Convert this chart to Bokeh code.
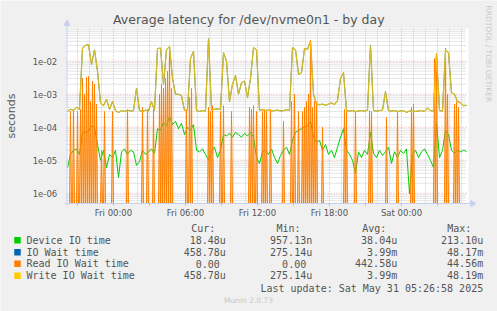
import math
import numpy as np
import pandas as pd
from bokeh.plotting import figure
from bokeh.models import Range1d, LogScale
from bokeh.core.properties import value
from bokeh.embed import file_html
from bokeh.resources import INLINE

# ---------------- data ----------------
title = "Average latency for /dev/nvme0n1 - by day"
first_sample = "2025-05-29 20:10"
sample_minutes = 15          # resolution used for the green / blue / yellow series
read_sample_minutes = 5      # the read series is mostly zero with short spikes
read_samples = 400
range_start = "2025-05-29 20:05"
range_end = "2025-05-31 05:25"

device_io_time = [
    6.0e-6, 1.5e-5, 2.0e-5, 2.2e-5, 1.5e-5, 7.0e-5, 7.0e-5, 7.5e-5, 1.1e-4, 1.0e-4,
    3.0e-5, 1.0e-5, 2.0e-5, 6.0e-6, 1.5e-5, 1.2e-5, 2.0e-5, 3.0e-6, 1.8e-5, 2.2e-5,
    1.5e-5, 2.0e-5, 1.8e-5, 7.0e-6, 9.0e-6, 2.0e-5, 1.5e-5, 1.8e-5, 2.2e-5, 1.6e-5,
    9.0e-5, 8.0e-5, 1.4e-4, 1.1e-4, 2.1e-4, 1.2e-4, 1.5e-4, 9.0e-5, 1.3e-4, 6.0e-5,
    1.0e-4, 8.0e-5, 1.2e-4, 2.0e-5, 1.8e-5, 2.2e-5, 1.5e-5, 1.0e-5, 1.8e-5, 2.5e-5,
    1.2e-5, 2.0e-5, 6.0e-5, 5.5e-5, 6.5e-5, 5.0e-5, 7.0e-5, 6.0e-5, 5.0e-5, 6.5e-5,
    5.5e-5, 7.0e-5, 5.0e-5, 1.2e-5, 8.0e-6, 1.8e-5, 2.0e-5, 1.5e-5, 2.2e-5, 1.2e-5,
    8.0e-6, 1.4e-5, 2.0e-5, 2.5e-5, 1.5e-5, 4.0e-5, 7.0e-5, 8.0e-5, 9.0e-5, 1.0e-4,
    1.1e-4, 1.5e-4, 5.0e-5, 3.5e-5, 4.0e-5, 2.0e-5, 3.0e-5, 1.5e-5, 2.0e-5, 1.2e-5,
    2.5e-5, 5.0e-5, 9.0e-5, 2.0e-5, 1.5e-5, 1.0e-5, 4.0e-6, 1.8e-5, 1.2e-5, 2.0e-5,
    1.5e-5, 7.0e-5, 1.6e-5, 1.2e-5, 2.0e-5, 1.4e-5, 1.8e-5, 2.5e-5, 8.0e-6, 1.8e-5,
    1.2e-5, 2.0e-5, 1.6e-5, 2.2e-5, 9.6e-7, 1.5e-5, 2.0e-5, 1.2e-5, 1.8e-5, 2.2e-5,
    1.5e-5, 1.0e-5, 6.0e-6, 1.4e-4, 1.2e-5, 2.0e-5, 8.0e-5, 6.0e-5, 2.0e-5, 1.6e-5,
    2.0e-5, 1.8e-5, 2.0e-5, 1.85e-5,
]

write_io_wait_time = [
    3.0e-4, 3.5e-4, 3.2e-4, 4.0e-4, 3.5e-4, 2.5e-2, 3.0e-2, 3.2e-2, 8.0e-3, 2.2e-2,
    5.0e-3, 5.5e-4, 4.5e-4, 7.0e-4, 3.5e-4, 6.0e-4, 3.2e-4, 2.8e-4, 3.2e-4, 3.0e-4,
    3.3e-4, 3.1e-4, 3.2e-4, 1.5e-3, 3.2e-4, 3.0e-4, 3.3e-4, 3.1e-4, 6.0e-4, 3.2e-4,
    2.4e-2, 2.5e-2, 2.0e-3, 2.2e-2, 2.8e-2, 3.0e-3, 1.0e-3, 1.0e-3, 9.0e-4, 3.2e-4,
    3.3e-4, 1.2e-2, 2.0e-2, 3.2e-4, 3.0e-4, 3.2e-4, 3.1e-4, 4.8e-2, 3.3e-4, 3.5e-4,
    3.6e-4, 3.4e-4, 1.8e-2, 1.0e-2, 6.0e-4, 2.0e-3, 3.7e-3, 1.0e-3, 2.2e-3, 2.5e-3,
    8.0e-4, 3.0e-3, 2.6e-2, 2.2e-2, 3.3e-4, 3.4e-4, 3.2e-4, 3.3e-4, 3.1e-4, 3.2e-4,
    3.3e-4, 3.1e-4, 3.2e-4, 3.4e-4, 3.3e-4, 2.6e-2, 2.2e-2, 4.0e-3, 4.5e-3, 2.4e-2,
    2.3e-2, 4.0e-2, 1.0e-3, 5.0e-4, 4.8e-4, 5.0e-4, 4.6e-4, 5.0e-4, 5.5e-4, 4.8e-4,
    6.5e-4, 3.0e-3, 4.5e-3, 3.2e-4, 3.1e-4, 3.2e-4, 3.0e-4, 3.1e-4, 3.2e-4, 3.1e-4,
    3.3e-4, 3.0e-2, 3.2e-4, 3.1e-4, 3.2e-4, 3.3e-4, 1.2e-3, 3.2e-4, 3.1e-4, 3.2e-4,
    3.0e-4, 3.1e-4, 3.2e-4, 2.8e-4, 3.1e-4, 3.2e-4, 3.0e-4, 3.1e-4, 3.2e-4, 3.0e-4,
    3.8e-4, 3.2e-4, 3.1e-4, 1.7e-2, 3.2e-4, 3.1e-4, 2.2e-2, 1.8e-2, 1.1e-3, 1.0e-3,
    6.0e-4, 5.5e-4, 4.5e-4, 4.6e-4,
]

# total IO wait coincides with write IO wait in this period (same Cur/Min/Avg)
io_wait_time = list(write_io_wait_time)

# read IO wait: zero except for these samples (minutes after first_sample, seconds)
read_spike_minutes = [
    15, 30, 50, 65, 75, 85, 95, 105, 115, 125, 135, 145, 170, 185, 225, 300, 375, 400, 430,
    460, 470, 480, 490, 500, 510, 520, 595, 610, 620, 705, 715, 725, 765, 780, 820,
    910, 920, 930, 945, 975, 985, 995, 1015, 1080, 1120, 1135, 1155, 1175, 1185, 1195,
    1205, 1215, 1225, 1235, 1245, 1275, 1385, 1395, 1440, 1510, 1520, 1595, 1650,
    1720, 1730, 1835, 1845, 1890, 1900, 1935, 1945, 1955,
]
read_spike_values = [
    3.0e-4, 3.5e-4, 3.0e-4, 3.5e-4, 3.0e-3, 1.0e-3, 3.2e-3, 3.5e-3, 6.0e-4, 2.5e-3, 2.0e-3,
    5.0e-4, 2.0e-5, 3.0e-4, 3.0e-4, 3.5e-4, 4.0e-4, 3.5e-4, 3.5e-4,
    1.0e-3, 2.0e-3, 1.5e-3, 3.0e-3, 5.0e-3, 2.4e-2, 1.5e-3, 3.5e-4, 8.0e-4, 1.5e-3,
    4.0e-4, 3.0e-4, 4.5e-4, 3.0e-4, 4.5e-4, 3.0e-4,
    4.0e-4, 3.5e-4, 4.5e-4, 3.0e-4, 3.0e-4, 3.5e-4, 3.0e-4, 3.5e-4, 1.5e-4, 6.0e-4,
    1.0e-3, 3.0e-4, 3.0e-4, 4.0e-4, 6.0e-4,
    1.0e-3, 4.4e-2, 4.0e-4, 6.0e-4, 6.0e-4, 1.0e-4, 3.5e-4, 3.0e-4, 3.0e-4, 3.2e-4,
    3.0e-4, 2.0e-4, 3.0e-4,
    4.0e-4, 5.0e-4, 1.2e-2, 1.7e-2, 2.5e-2, 1.0e-3, 5.0e-4, 6.0e-4, 4.0e-4,
]

series_names = ["Device IO time", "IO Wait time", "Read IO Wait time", "Write IO Wait time"]
series_colors = ["#00CC00", "#0066B3", "#FF8000", "#FFCC00"]
stat_headers = ["Cur:", "Min:", "Avg:", "Max:"]
stats = [
    ["18.48u", "957.13n", "38.04u", "213.10u"],
    ["458.78u", "275.14u", "3.99m", "48.17m"],
    ["0.00", "0.00", "442.58u", "44.56m"],
    ["458.78u", "275.14u", "3.99m", "48.19m"],
]
last_update = "Last update: Sat May 31 05:26:58 2025"
y_axis_label = "seconds"
y_tick_values = [1e-6, 1e-5, 1e-4, 1e-3, 1e-2]
y_tick_labels = ["1e-06", "1e-05", "1e-04", "1e-03", "1e-02"]
x_label_times = ["2025-05-30 00:00", "2025-05-30 06:00", "2025-05-30 12:00",
                 "2025-05-30 18:00", "2025-05-31 00:00"]
x_tick_labels = ["Fri 00:00", "Fri 06:00", "Fri 12:00", "Fri 18:00", "Sat 00:00"]
y_log_low, y_log_high = -6.31, -1.01

# ---------------- layout (canvas pixels) ----------------
W, H = 497, 311
FL, FT, FR, FB = 66, 28, 466, 203      # plot area
TEXT = "#555555"
GRID_MAJOR = "#E8A0A0"
GRID_MINOR = "#CCCCCC"
AXIS = "#C8D0F0"
SANS = value("DejaVu Sans")
MONO = value("DejaVu Sans Mono")

def ms(t):
    return pd.Timestamp(t).value // 10**6

n = len(device_io_time)
times = pd.date_range(first_sample, periods=n, freq=f"{sample_minutes}min")
read_times = pd.date_range(first_sample, periods=read_samples, freq=f"{read_sample_minutes}min")
read_io_wait_time = np.zeros(read_samples)
read_io_wait_time[np.asarray(read_spike_minutes) // read_sample_minutes] = read_spike_values

t0, t1 = ms(range_start), ms(range_end)
per_px_t = (t1 - t0) / (FR - FL)
per_px_y = (y_log_high - y_log_low) / (FB - FT)

p = figure(width=W, height=H, output_backend="svg", toolbar_location=None,
           x_axis_type=None, y_axis_type=None,
           x_range=Range1d(0, W), y_range=Range1d(H, 0), min_border=0)
p.outline_line_color = None
p.background_fill_color = "#F0F0F0"
p.border_fill_color = "#F0F0F0"
# the chart's own scales: time (linear) and seconds (log), fitted to the plot area
p.extra_x_ranges = {"time": Range1d(t0 - FL * per_px_t, t1 + (W - FR) * per_px_t)}
p.extra_y_ranges = {"log": Range1d(10 ** (y_log_low - (H - FB) * per_px_y),
                                   10 ** (y_log_high + FT * per_px_y))}
p.extra_y_scales = {"log": LogScale()}
ybot, ytop = 10 ** y_log_low, 10 ** y_log_high
TL = dict(x_range_name="time", y_range_name="log")

# plot area
p.quad(left=[t0], right=[t1 + 2 * per_px_t], bottom=[ybot], top=[ytop], fill_color="white",
       line_color=None, **TL)

# grids
hours = [ms(t) for t in pd.date_range("2025-05-29 21:00", "2025-05-31 05:00", freq="1h")]
three_h = [ms(t) for t in pd.date_range("2025-05-29 21:00", "2025-05-31 05:00", freq="3h")]
minor_h = [h for h in hours if h not in three_h]
minor_y = [k * 10.0 ** e for e in range(-7, -1) for k in range(2, 10) if ybot < k * 10.0 ** e < ytop]
p.segment(x0=minor_h, x1=minor_h, y0=ybot, y1=ytop, line_color=GRID_MINOR, line_dash="1 1", **TL)
p.segment(x0=t0, x1=t1, y0=minor_y, y1=minor_y, line_color=GRID_MINOR, line_dash="1 1", **TL)
p.segment(x0=three_h, x1=three_h, y0=ybot, y1=ytop, line_color=GRID_MAJOR, line_dash="1 2", **TL)
p.segment(x0=t0, x1=t1, y0=y_tick_values, y1=y_tick_values, line_color=GRID_MAJOR, line_dash="1 2", **TL)

# series (zero values sit on the bottom edge of the log axis)
def on_log(vals):
    a = np.asarray(vals, dtype=float)
    return np.where(a > ybot, a, ybot)

p.line(times, on_log(device_io_time), line_color=series_colors[0], line_width=1, **TL)
p.line(times, on_log(io_wait_time), line_color=series_colors[1], line_width=1, **TL)
rd = on_log(read_io_wait_time)
p.varea(x=read_times, y1=np.full(read_samples, ybot), y2=rd, fill_color=series_colors[2],
        fill_alpha=0.35, **TL)
p.line(read_times, rd, line_color=series_colors[2], line_width=1, **TL)
p.line(times, on_log(write_io_wait_time), line_color=series_colors[3], line_width=1.3,
       line_alpha=0.8, **TL)

# axes
p.segment(x0=[FL - 2], x1=[FR + 4], y0=[FB], y1=[FB], line_color=AXIS, line_width=1)
p.segment(x0=[FL + 0.5], x1=[FL + 0.5], y0=[FB + 2], y1=[FT - 4], line_color=AXIS, line_width=1)
p.scatter(x=[FL + 0.5], y=[FT - 5], marker="triangle", size=6, color=AXIS)
p.scatter(x=[FR + 6], y=[FB], marker="triangle", size=6, color=AXIS, angle=-math.pi / 2)
p.segment(x0=three_h, x1=three_h, y0=[FB] * len(three_h), y1=[FB + 2] * len(three_h),
          line_color=GRID_MAJOR, x_range_name="time")

p.text(x=[ms(t) for t in x_label_times], y=[FB + 9.7] * len(x_tick_labels), text=x_tick_labels,
       text_font=SANS, text_font_size="8.5px", text_color=TEXT, text_align="center",
       text_baseline="middle", x_range_name="time")
p.text(x=[FL - 9.3] * len(y_tick_labels), y=y_tick_values, text=y_tick_labels,
       text_font=SANS, text_font_size="8.5px", text_color=TEXT, text_align="right",
       text_baseline="middle", y_range_name="log")
p.text(x=[11], y=[(FT + FB) / 2], text=[y_axis_label], angle=math.pi / 2, text_font=SANS,
       text_font_size="11px", text_color=TEXT, text_align="center", text_baseline="middle")

# title and side texts
p.text(x=[248.3], y=[19], text=[title], text_font=SANS, text_font_size="12.5px",
       text_color=TEXT, text_align="center", text_baseline="middle")
p.text(x=[487.5], y=[5], text=["RRDTOOL / TOBI OETIKER"], angle=-math.pi / 2, text_font=SANS,
       text_font_size="7.5px", text_color="#C8C8C8", text_align="left", text_baseline="middle")
p.text(x=[248], y=[300], text=["Munin 2.0.73"], text_font=SANS, text_font_size="7.5px",
       text_color="#C8C8C8", text_align="center", text_baseline="middle")

# legend table
header_x = [190.7, 276, 361.7, 446.7]
col_end = [225.3, 311.7, 396.7, 482.7]
row_y = [239.7, 251.7, 263.3, 275.3]
p.text(x=header_x, y=[228] * 4, text=stat_headers, text_font=MONO, text_font_size="10px",
       text_color=TEXT, text_align="left", text_baseline="middle")
p.rect(x=[17] * 4, y=row_y, width=6.5, height=6.5, fill_color=series_colors, line_color=None)
p.text(x=[26] * 4, y=row_y, text=series_names, text_font=MONO, text_font_size="10px",
       text_color=TEXT, text_align="left", text_baseline="middle")
vx, vy, vt = [], [], []
for r in range(len(stats)):
    for c, v in enumerate(stats[r]):
        vx.append(col_end[c] - (0 if v[-1].isalpha() else 6))
        vy.append(row_y[r])
        vt.append(v)
p.text(x=vx, y=vy, text=vt, text_font=MONO, text_font_size="10px", text_color=TEXT,
       text_align="right", text_baseline="middle")
p.text(x=[482.7], y=[287.7], text=[last_update], text_font=MONO, text_font_size="10px",
       text_color=TEXT, text_align="right", text_baseline="middle")

open("out.html", "w").write(file_html(p, INLINE))
